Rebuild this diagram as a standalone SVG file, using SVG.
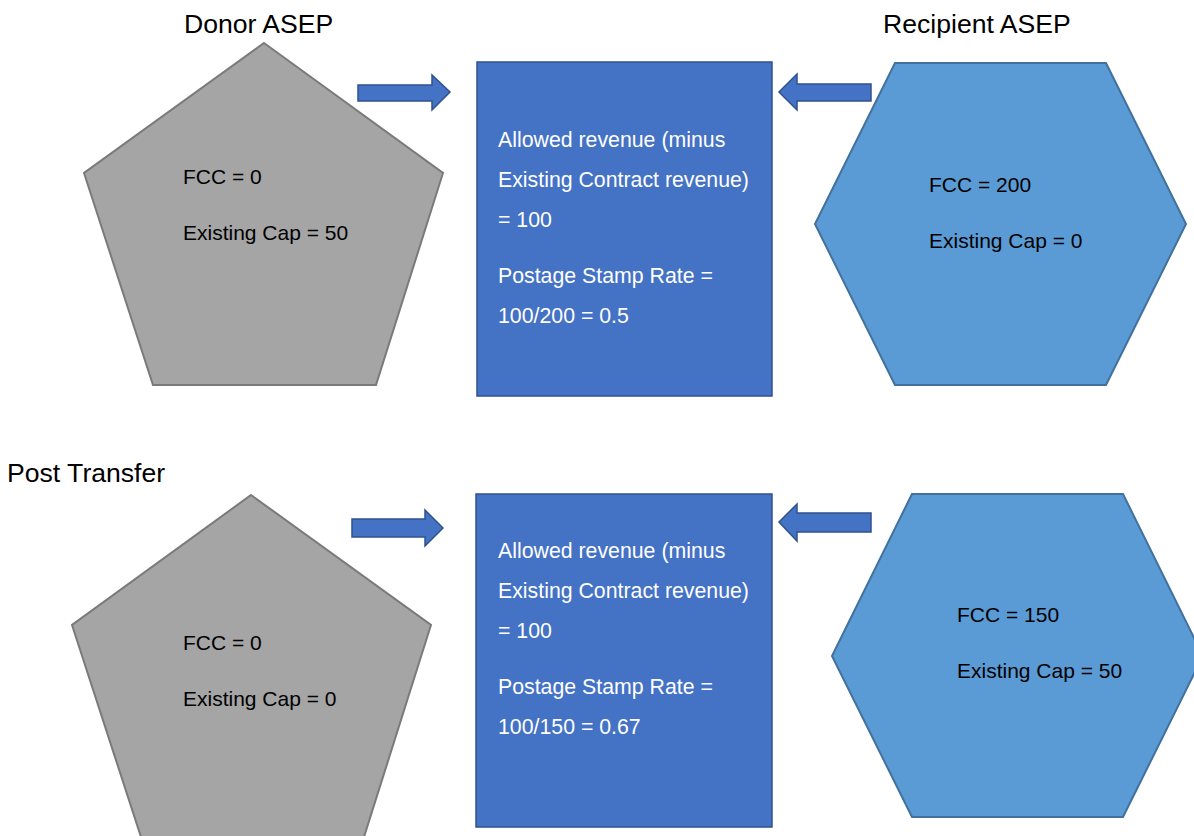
<svg xmlns="http://www.w3.org/2000/svg" width="1194" height="836" viewBox="0 0 1194 836">
<style>
text { font-family: "Liberation Sans", Arial, sans-serif; }
.title { font-size: 26.6px; fill: #000; }
.lbl { font-size: 21px; fill: #000; }
.wt { font-size: 21.3px; fill: #fff; }
.pent { fill: #a5a5a5; stroke: #7a7a7a; stroke-width: 2; }
.hex { fill: #5b9bd5; stroke: #41719c; stroke-width: 2; }
.box { fill: #4472c4; stroke: #2f528f; stroke-width: 1.5; }
.arr { fill: #4472c4; stroke: #2f528f; stroke-width: 1.5; stroke-linejoin: miter; }
</style>
<rect width="1194" height="836" fill="#ffffff"/>
<text class="title" x="184" y="33">Donor ASEP</text>
<text class="title" x="883" y="33">Recipient ASEP</text>
<text class="title" x="7" y="482">Post Transfer</text>

<g id="donor-top">
<polygon class="pent" points="264,43 443,173 376,385 153,385 84,173"/>
<text class="lbl" x="183" y="184">FCC = 0</text>
<text class="lbl" x="183" y="240">Existing Cap = 50</text>
</g>
<g id="box-top">
<rect class="box" x="477" y="62" width="295" height="334"/>
<text class="wt" x="498" y="147">Allowed revenue (minus</text>
<text class="wt" x="498" y="187">Existing Contract revenue)</text>
<text class="wt" x="498" y="227">= 100</text>
<text class="wt" x="498" y="283">Postage Stamp Rate =</text>
<text class="wt" x="498" y="323">100/200 = 0.5</text>
</g>
<g id="recipient-top">
<polygon class="hex" points="895,63 1106,63 1186,224 1106,385 895,385 815,224"/>
<text class="lbl" x="929" y="192">FCC = 200</text>
<text class="lbl" x="929" y="248">Existing Cap = 0</text>
</g>

<g id="donor-bottom">
<polygon class="pent" points="251,495 431,625 364,837 141,837 72,625"/>
<text class="lbl" x="183" y="650">FCC = 0</text>
<text class="lbl" x="183" y="706">Existing Cap = 0</text>
</g>
<g id="box-bottom">
<rect class="box" x="476" y="494" width="296" height="333"/>
<text class="wt" x="498" y="558">Allowed revenue (minus</text>
<text class="wt" x="498" y="598">Existing Contract revenue)</text>
<text class="wt" x="498" y="638">= 100</text>
<text class="wt" x="498" y="694">Postage Stamp Rate =</text>
<text class="wt" x="498" y="734">100/150 = 0.67</text>
</g>
<g id="recipient-bottom">
<polygon class="hex" points="912,494 1123,494 1203,656 1123,817 912,817 832,656"/>
<text class="lbl" x="957" y="622">FCC = 150</text>
<text class="lbl" x="957" y="678">Existing Cap = 50</text>
</g>

<g id="connectors">
<polygon class="arr" points="358,85 432,85 432,75 450,92 432,110 432,101 358,101"/>
<polygon class="arr" points="871,84 797,84 797,74 779,92 797,110 797,101 871,101"/>
<polygon class="arr" points="352,519 425,519 425,510 443,528 425,546 425,537 352,537"/>
<polygon class="arr" points="871,513 797,513 797,504 779,522 797,541 797,532 871,532"/>
</g>
</svg>
